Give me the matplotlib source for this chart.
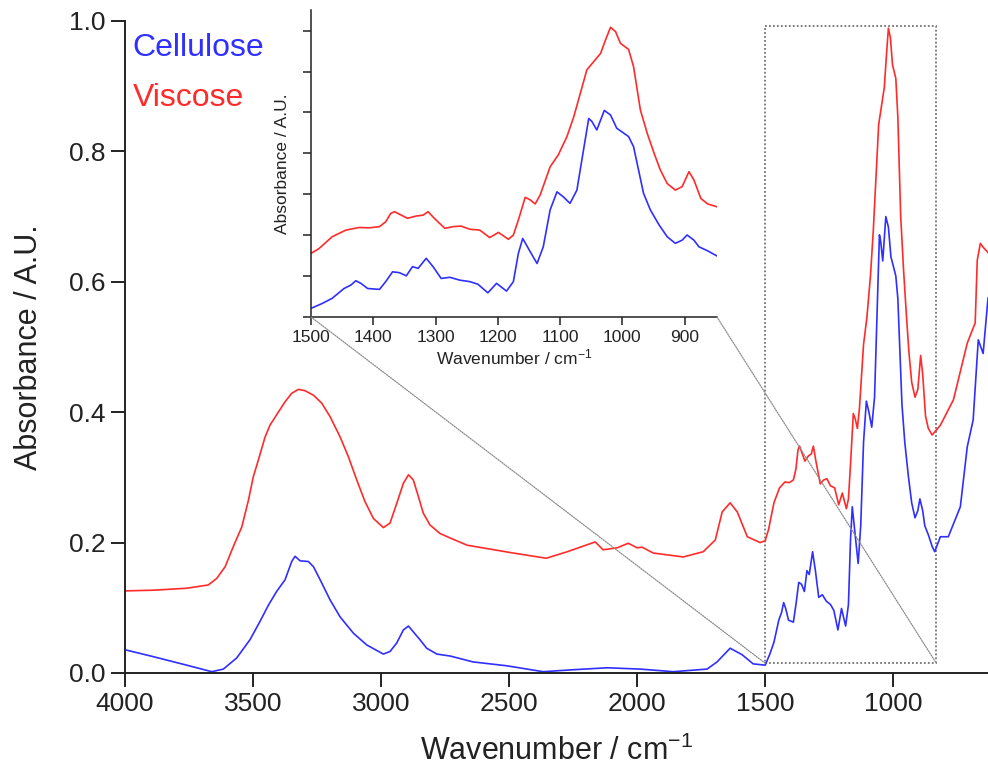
import matplotlib
matplotlib.use("Agg")
import matplotlib.pyplot as plt
from matplotlib.patches import Rectangle, ConnectionPatch
import numpy as np

plt.rcParams["font.family"] = ["Liberation Sans", "DejaVu Sans"]
plt.rcParams["mathtext.fontset"] = "custom"
plt.rcParams["mathtext.rm"] = "Liberation Sans"
plt.rcParams["mathtext.it"] = "Liberation Sans:italic"
plt.rcParams["mathtext.bf"] = "Liberation Sans:bold"

# FTIR spectra (wavenumber in cm-1, absorbance)
CELLULOSE_WN = [
    3993, 3889, 3759, 3661, 3616, 3564, 3512, 3473, 3440, 3408, 3375, 3349,
    3336, 3316, 3284, 3264, 3238, 3199, 3160, 3108, 3056, 2991, 2965, 2939,
    2913, 2893, 2874, 2848, 2822, 2782, 2730, 2641, 2508, 2367, 2250, 2117,
    1988, 1859, 1727, 1688, 1637, 1590, 1547, 1500, 1482, 1466, 1447, 1436,
    1428, 1420, 1409, 1390, 1380, 1369, 1358, 1347, 1337, 1328, 1315, 1304,
    1291, 1277, 1261, 1245, 1232, 1216, 1202, 1186, 1175, 1167, 1160, 1148,
    1137, 1127, 1116, 1105, 1095, 1084, 1073, 1065, 1054, 1049, 1041, 1029,
    1019, 1009, 1001, 990, 982, 974, 966, 955, 941, 928, 915, 904, 896, 885,
    877, 863, 848, 838, 816, 785, 738, 711, 688, 668, 649, 630,
]
CELLULOSE_ABS = [
    0.035, 0.025, 0.012, 0.002, 0.006, 0.023, 0.051, 0.079, 0.104, 0.125, 0.143, 0.171,
    0.179, 0.172, 0.171, 0.163, 0.143, 0.112, 0.086, 0.061, 0.043, 0.029, 0.033, 0.046,
    0.066, 0.072, 0.063, 0.051, 0.038, 0.029, 0.026, 0.017, 0.011, 0.002, 0.005, 0.008,
    0.006, 0.002, 0.006, 0.017, 0.038, 0.028, 0.014, 0.012, 0.029, 0.047, 0.081, 0.093,
    0.108, 0.099, 0.081, 0.078, 0.105, 0.139, 0.136, 0.125, 0.157, 0.151, 0.186, 0.157,
    0.116, 0.120, 0.110, 0.105, 0.096, 0.066, 0.099, 0.072, 0.105, 0.203, 0.255, 0.209,
    0.168, 0.226, 0.354, 0.417, 0.400, 0.377, 0.423, 0.528, 0.672, 0.662, 0.632, 0.700,
    0.684, 0.638, 0.626, 0.609, 0.574, 0.493, 0.412, 0.354, 0.302, 0.261, 0.238, 0.249,
    0.267, 0.249, 0.226, 0.212, 0.194, 0.186, 0.209, 0.209, 0.255, 0.347, 0.388, 0.511,
    0.490, 0.575,
]

VISCOSE_WN = [
    3993, 3889, 3759, 3675, 3642, 3609, 3577, 3544, 3518, 3499, 3479, 3453,
    3434, 3408, 3375, 3349, 3323, 3297, 3264, 3232, 3199, 3160, 3128, 3095,
    3063, 3030, 2991, 2965, 2939, 2913, 2893, 2874, 2854, 2835, 2809, 2770,
    2730, 2664, 2574, 2484, 2355, 2273, 2164, 2133, 2078, 2035, 2000, 1981,
    1937, 1820, 1742, 1695, 1668, 1637, 1609, 1570, 1520, 1500, 1487, 1466,
    1444, 1423, 1406, 1390, 1380, 1372, 1366, 1355, 1345, 1331, 1320, 1312,
    1302, 1285, 1272, 1259, 1245, 1229, 1213, 1199, 1183, 1175, 1167, 1156,
    1148, 1140, 1132, 1116, 1103, 1089, 1078, 1057, 1035, 1027, 1019, 1011,
    1003, 990, 982, 971, 960, 949, 939, 928, 915, 904, 893, 885, 874, 863,
    848, 816, 765, 711, 680, 672, 660, 649, 630,
]
VISCOSE_ABS = [
    0.126, 0.127, 0.130, 0.135, 0.145, 0.163, 0.194, 0.224, 0.265, 0.301, 0.327, 0.362,
    0.380, 0.396, 0.416, 0.429, 0.435, 0.433, 0.426, 0.414, 0.393, 0.362, 0.332, 0.296,
    0.263, 0.237, 0.223, 0.230, 0.260, 0.291, 0.304, 0.296, 0.270, 0.245, 0.227, 0.214,
    0.207, 0.196, 0.190, 0.184, 0.176, 0.186, 0.201, 0.189, 0.192, 0.199, 0.192, 0.193,
    0.184, 0.178, 0.186, 0.204, 0.247, 0.261, 0.247, 0.209, 0.200, 0.203, 0.220, 0.261,
    0.284, 0.293, 0.292, 0.296, 0.313, 0.342, 0.348, 0.336, 0.325, 0.333, 0.336, 0.348,
    0.325, 0.290, 0.296, 0.298, 0.287, 0.284, 0.258, 0.276, 0.252, 0.267, 0.319, 0.398,
    0.389, 0.375, 0.406, 0.504, 0.545, 0.609, 0.678, 0.841, 0.898, 0.945, 0.989, 0.974,
    0.933, 0.912, 0.852, 0.701, 0.620, 0.551, 0.493, 0.446, 0.423, 0.435, 0.487, 0.458,
    0.394, 0.375, 0.365, 0.380, 0.419, 0.506, 0.537, 0.633, 0.659, 0.653, 0.645,
]

SERIES = ["Cellulose", "Viscose"]
COLORS = {"Cellulose": "#2f2fff", "Viscose": "#ff2b2b"}

MAIN_XTICKS = [4000, 3500, 3000, 2500, 2000, 1500, 1000]
MAIN_YTICKS = [0.0, 0.2, 0.4, 0.6, 0.8, 1.0]
INSET_XTICKS = [1500, 1400, 1300, 1200, 1100, 1000, 900]

# zoomed region shown in the inset
ZOOM_WN = (1500, 832)
ZOOM_ABS = (0.015, 0.992)

TEXT = "#222222"


def style_axis(ax, tick_len, label_size, width):
    for side in ("top", "right"):
        ax.spines[side].set_visible(False)
    for side in ("left", "bottom"):
        ax.spines[side].set_linewidth(width)
        ax.spines[side].set_color(TEXT)
    ax.tick_params(direction="out", length=tick_len, width=width, colors=TEXT,
                   labelsize=label_size, pad=4)


fig = plt.figure(figsize=(9.88, 7.82), dpi=100)
ax = fig.add_axes([125 / 988, 109 / 782, 863 / 988, 652 / 782])

data = {
    "Cellulose": (CELLULOSE_WN, CELLULOSE_ABS),
    "Viscose": (VISCOSE_WN, VISCOSE_ABS),
}

for name in SERIES:
    wn, ab = data[name]
    ax.plot(wn, ab, color=COLORS[name], linewidth=1.2)

ax.set_xlim(4000, 630)
ax.set_ylim(0, 1.0)
ax.set_xticks(MAIN_XTICKS)
ax.set_yticks(MAIN_YTICKS)
ax.set_yticklabels([f"{v:.1f}" for v in MAIN_YTICKS])
style_axis(ax, 10, 19, 1.4)
ax.set_xlabel("Wavenumber / cm$^{-1}$", fontsize=22, color=TEXT, labelpad=14)
ax.set_ylabel("Absorbance / A.U.", fontsize=22, color=TEXT, labelpad=18)

ax.text(0.009, 0.946, "Cellulose", color=COLORS["Cellulose"], fontsize=23,
        transform=ax.transAxes, va="baseline")
ax.text(0.009, 0.870, "Viscose", color=COLORS["Viscose"], fontsize=23,
        transform=ax.transAxes, va="baseline")

# dotted box marking the zoomed region
box = Rectangle((ZOOM_WN[0], ZOOM_ABS[0]), ZOOM_WN[1] - ZOOM_WN[0],
                ZOOM_ABS[1] - ZOOM_ABS[0], fill=False, edgecolor="0.45",
                linestyle=(0, (1, 1.2)), linewidth=1.3, zorder=1)
ax.add_patch(box)

# inset
ins = fig.add_axes([311 / 988, (782 - 317) / 782, 406 / 988, 307 / 782])
for name in SERIES:
    wn, ab = data[name]
    ins.plot(wn, ab, color=COLORS[name], linewidth=1.2)
ins.set_xlim(1500, 848)
ins.set_ylim(-0.018, 1.049)
ins.set_xticks(INSET_XTICKS)
ins.set_yticks(-0.018 + 0.1422 * np.arange(8))
ins.set_yticklabels([])
style_axis(ins, 6, 12.5, 1.1)
ins.tick_params(pad=3)
ins.set_xlabel("Wavenumber / cm$^{-1}$", fontsize=12.5, color=TEXT, labelpad=2)
ins.set_ylabel("Absorbance / A.U.", fontsize=12.5, color=TEXT, labelpad=6)

for corner, wn in ((0, ZOOM_WN[0]), (1, ZOOM_WN[1])):
    con = ConnectionPatch(xyA=(corner, 0), coordsA=ins.transAxes,
                          xyB=(wn, ZOOM_ABS[0]), coordsB=ax.transData,
                          color="0.55", linewidth=0.9, linestyle=(0, (1, 1)))
    fig.add_artist(con)

fig.savefig("out.png", dpi=100)
